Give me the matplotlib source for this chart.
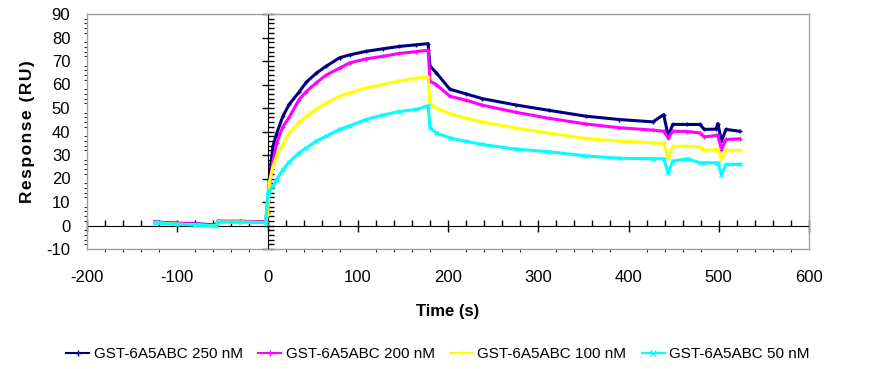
import matplotlib
matplotlib.use("Agg")
import matplotlib.pyplot as plt
from matplotlib.lines import Line2D
from matplotlib.ticker import MultipleLocator

plt.rcParams['font.family'] = ['Liberation Sans', 'DejaVu Sans']
plt.rcParams['axes.unicode_minus'] = False

# time points (s)
t = [-125, -100, -80, -57, -55, -30, -2,
     0.3, 2, 6, 10, 17, 24, 35, 43, 54, 65, 80, 91, 109, 128, 146, 165, 178,
     180, 187, 202, 220, 238, 275, 312, 353, 390, 427, 439,
     444, 449, 465, 479, 484, 497, 499, 503, 508, 523]

resp_250 = [1.5, 1.0, 0.7, 0.3, 1.8, 1.8, 1.6,
            5.5, 19.6, 33.7, 39.0, 46.5, 51.5, 56.8, 61.0, 64.8, 67.8, 71.4, 72.6, 74.1, 75.2, 76.2, 76.9, 77.4,
            67.8, 65.0, 58.0, 56.0, 54.0, 51.3, 49.0, 46.5, 45.1, 44.1, 47.2,
            38.0, 43.0, 43.0, 43.0, 40.9, 41.0, 43.4, 35.9, 40.9, 40.1]

resp_200 = [1.4, 0.9, 0.6, 0.2, 1.7, 1.7, 1.5,
            11.0, 17.0, 27.0, 35.0, 42.0, 46.0, 53.6, 57.0, 60.7, 64.0, 67.0, 69.2, 70.9, 72.0, 73.2, 74.0, 74.6,
            61.4, 60.0, 55.0, 53.3, 51.2, 48.2, 45.6, 43.2, 41.6, 40.6, 40.1,
            37.3, 40.1, 40.0, 39.4, 37.7, 38.3, 38.5, 32.3, 36.6, 36.9]

resp_100 = [1.2, 0.6, 0.3, -0.2, 1.5, 1.5, 1.3,
            5.0, 18.2, 25.0, 29.5, 34.5, 39.4, 44.0, 46.5, 49.5, 52.2, 55.0, 56.5, 58.5, 60.0, 61.5, 62.6, 63.3,
            52.2, 50.0, 47.6, 45.7, 44.0, 41.5, 39.3, 37.0, 35.9, 35.2, 34.9,
            28.8, 33.7, 33.7, 33.5, 32.0, 32.3, 32.5, 28.1, 32.0, 32.0]

resp_50 = [1.0, 0.5, 0.2, -0.3, 1.4, 1.4, 1.2,
           14.0, 14.5, 16.7, 19.5, 23.8, 27.0, 30.9, 33.0, 35.9, 38.0, 40.9, 42.4, 45.1, 47.0, 48.5, 49.4, 51.0,
           41.6, 39.4, 37.3, 35.8, 34.5, 32.5, 31.4, 29.6, 28.6, 28.4, 28.4,
           22.4, 27.4, 28.4, 26.7, 26.7, 26.7, 26.7, 21.7, 26.0, 26.0]

labels = ['GST-6A5ABC 250 nM', 'GST-6A5ABC 200 nM', 'GST-6A5ABC 100 nM', 'GST-6A5ABC 50 nM']
colors = ['#000080', '#ff00ff', '#ffff00', '#00ffff']
markers = ['+', '+', '+', 'x']

fig = plt.figure(figsize=(8.76, 3.69), dpi=100)
rect = [87 / 876, 1 - 249 / 369, (809 - 87) / 876, (249 - 14) / 369]

# axes crossing at zero, Excel style (drawn underneath)
ax2 = fig.add_axes(rect)
ax = fig.add_axes(rect, sharex=ax2, sharey=ax2)
ax.patch.set_visible(False)

series = [resp_250, resp_200, resp_100, resp_50]
for y, lab, c, m in zip(series, labels, colors, markers):
    ax.plot(t, y, color=c, lw=2.2, marker=m, ms=3, mew=1, label=lab)

ax.set_xlim(-200, 600)
ax.set_ylim(-10, 90)
ax.xaxis.set_major_locator(MultipleLocator(100))
ax.yaxis.set_major_locator(MultipleLocator(10))
ax.tick_params(length=0, labelsize=12)
ax.tick_params(axis='x', pad=15)
ax.tick_params(axis='y', pad=12)
for s in ax.spines.values():
    s.set_color('#a0a0a0')
    s.set_linewidth(1.0)

ax.set_xlabel('Time (s)', fontsize=12, fontweight='bold', labelpad=14)
ax.set_ylabel('R\u200ae\u200as\u200ap\u200ao\u200an\u200as\u200ae\u200a \u200a(\u200aR\u200aU\u200a)',
              fontsize=12.5, fontweight='bold', labelpad=8)

ax2.patch.set_facecolor('white')
ax2.spines['top'].set_visible(False)
ax2.spines['right'].set_visible(False)
ax2.spines['left'].set_position(('data', 0))
ax2.spines['bottom'].set_position(('data', 0))
ax2.spines['left'].set_color('black')
ax2.spines['bottom'].set_color('black')
ax2.xaxis.set_major_locator(MultipleLocator(100))
ax2.yaxis.set_major_locator(MultipleLocator(10))
ax2.xaxis.set_minor_locator(MultipleLocator(20))
ax2.yaxis.set_minor_locator(MultipleLocator(2))
ax2.tick_params(which='major', direction='inout', length=8, width=1, labelleft=False, labelbottom=False)
ax2.tick_params(which='minor', direction='in', length=4, width=1)

# thin legend keys like the Excel original
handles = [Line2D([], [], color=c, lw=1.5, marker=m, ms=4, mew=1) for c, m in zip(colors, markers)]
fig.legend(handles, labels, loc='center', bbox_to_anchor=(0.5, 0.04), ncol=4, frameon=False,
           fontsize=11, handlelength=1.5, handletextpad=0.3, columnspacing=1.0)

fig.savefig('out.png', dpi=100, facecolor='white')
